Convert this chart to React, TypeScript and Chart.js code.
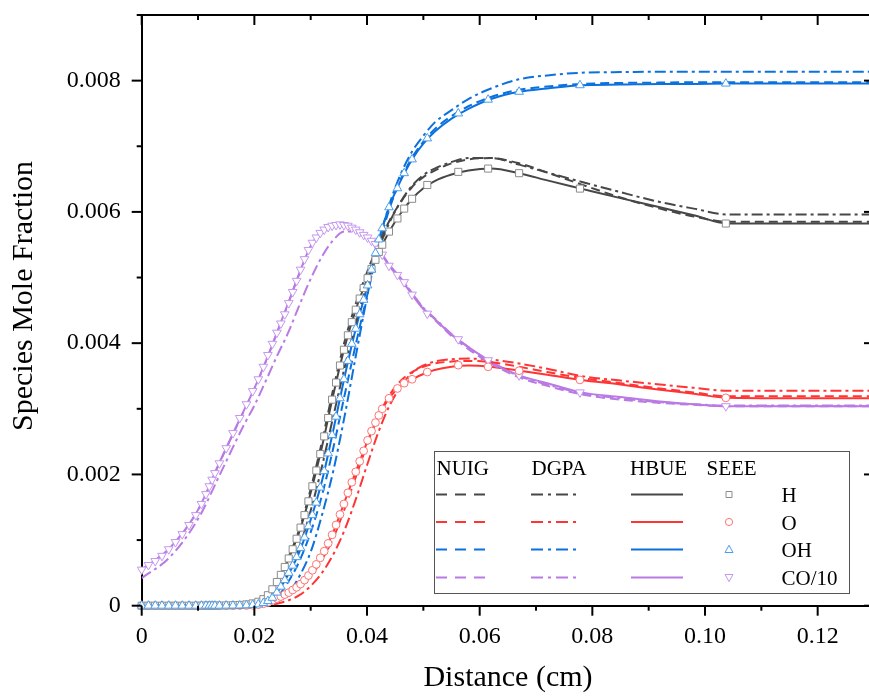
import React, { useEffect, useRef } from "react";
import { Chart, registerables } from "chart.js";

Chart.register(...registerables);

// ---------- data (mole fraction values in units of 1e-3) ----------
const xLine = [0, 0.005, 0.010, 0.014, 0.018, 0.020, 0.022, 0.024, 0.026, 0.028, 0.030, 0.032, 0.034, 0.036, 0.038, 0.040, 0.042, 0.044, 0.046, 0.048, 0.050, 0.052, 0.055, 0.058, 0.062, 0.067, 0.072, 0.078, 0.085, 0.092, 0.098, 0.104, 0.115, 0.130];

const hNUIG = [0, 0, 0, 0.002, 0.012, 0.035, 0.14, 0.38, 0.73, 1.17, 1.78, 2.50, 3.30, 4.02, 4.60, 5.08, 5.50, 5.87, 6.15, 6.38, 6.53, 6.63, 6.74, 6.80, 6.82, 6.74, 6.60, 6.42, 6.22, 6.05, 5.93, 5.85, 5.85, 5.85];
const hDGPA = [0, 0, 0, 0.001, 0.006, 0.02, 0.07, 0.22, 0.50, 0.90, 1.45, 2.12, 2.88, 3.62, 4.30, 4.90, 5.42, 5.84, 6.16, 6.40, 6.56, 6.66, 6.76, 6.82, 6.82, 6.72, 6.60, 6.46, 6.30, 6.15, 6.05, 5.96, 5.96, 5.96];
const hHBUE = [0, 0, 0, 0.002, 0.012, 0.03, 0.13, 0.36, 0.70, 1.13, 1.72, 2.42, 3.21, 3.93, 4.51, 4.97, 5.37, 5.71, 5.98, 6.20, 6.36, 6.47, 6.57, 6.63, 6.66, 6.59, 6.48, 6.355, 6.21, 6.07, 5.95, 5.823, 5.823, 5.823];

const oNUIG = [0, 0, 0, 0, 0.002, 0.006, 0.025, 0.075, 0.15, 0.27, 0.45, 0.70, 1.03, 1.47, 1.96, 2.45, 2.88, 3.21, 3.43, 3.56, 3.64, 3.69, 3.72, 3.73, 3.71, 3.64, 3.56, 3.47, 3.39, 3.31, 3.25, 3.19, 3.19, 3.19];
const oDGPA = [0, 0, 0, 0, 0.001, 0.003, 0.01, 0.03, 0.08, 0.16, 0.30, 0.50, 0.78, 1.15, 1.62, 2.14, 2.64, 3.05, 3.34, 3.55, 3.66, 3.72, 3.755, 3.765, 3.75, 3.69, 3.61, 3.50, 3.43, 3.37, 3.32, 3.275, 3.275, 3.275];
const oHBUE = [0, 0, 0, 0.001, 0.003, 0.01, 0.04, 0.11, 0.19, 0.31, 0.50, 0.77, 1.12, 1.58, 2.04, 2.49, 2.88, 3.17, 3.35, 3.45, 3.53, 3.59, 3.64, 3.66, 3.64, 3.58, 3.52, 3.44, 3.37, 3.29, 3.23, 3.167, 3.16, 3.16];

const ohNUIG = [0, 0, 0, 0.001, 0.004, 0.01, 0.035, 0.13, 0.36, 0.68, 1.12, 1.68, 2.40, 3.20, 3.98, 4.72, 5.45, 6.05, 6.50, 6.83, 7.07, 7.26, 7.46, 7.61, 7.75, 7.86, 7.91, 7.95, 7.965, 7.97, 7.975, 7.975, 7.975, 7.975];
const ohDGPA = [0, 0, 0, 0, 0.002, 0.005, 0.02, 0.06, 0.18, 0.45, 0.82, 1.38, 2.05, 2.88, 3.80, 4.70, 5.50, 6.12, 6.58, 6.92, 7.16, 7.36, 7.55, 7.72, 7.88, 8.02, 8.08, 8.12, 8.13, 8.135, 8.135, 8.135, 8.135, 8.135];
const ohHBUE = [0, 0, 0, 0.001, 0.005, 0.015, 0.05, 0.20, 0.47, 0.82, 1.31, 1.90, 2.67, 3.48, 4.22, 4.85, 5.55, 6.09, 6.48, 6.80, 7.04, 7.22, 7.42, 7.57, 7.72, 7.83, 7.88, 7.93, 7.94, 7.95, 7.95, 7.955, 7.955, 7.955];

const coNUIG = [0.55, 0.88, 1.46, 2.21, 2.94, 3.30, 3.71, 4.15, 4.60, 5.06, 5.47, 5.70, 5.79, 5.80, 5.74, 5.62, 5.44, 5.19, 4.99, 4.76, 4.53, 4.36, 4.11, 3.91, 3.69, 3.48, 3.35, 3.22, 3.14, 3.09, 3.06, 3.04, 3.04, 3.04];
const coDGPA = [0.42, 0.74, 1.32, 2.02, 2.73, 3.05, 3.42, 3.80, 4.16, 4.58, 4.98, 5.32, 5.57, 5.70, 5.70, 5.60, 5.42, 5.18, 4.98, 4.76, 4.54, 4.38, 4.14, 3.94, 3.71, 3.50, 3.37, 3.24, 3.16, 3.10, 3.07, 3.05, 3.05, 3.05];
const coHBUE = [0.55, 0.88, 1.46, 2.22, 2.95, 3.31, 3.72, 4.16, 4.61, 5.07, 5.48, 5.70, 5.79, 5.80, 5.73, 5.61, 5.43, 5.17, 4.97, 4.74, 4.52, 4.37, 4.13, 3.94, 3.72, 3.51, 3.39, 3.25, 3.18, 3.11, 3.07, 3.04, 3.04, 3.04];

const seeeX = [0, 0.0012, 0.0024, 0.0036, 0.0048, 0.0060, 0.0072, 0.0084, 0.0096, 0.0106, 0.0114, 0.0120, 0.0125, 0.0130, 0.0138, 0.0150, 0.0162, 0.0174, 0.0186, 0.0197, 0.0207, 0.0216, 0.0224, 0.0232, 0.0240, 0.0247, 0.0254, 0.0261, 0.0268, 0.0275, 0.0282, 0.0289, 0.0296, 0.0303, 0.0310, 0.0317, 0.0324, 0.0331, 0.0338, 0.0345, 0.0352, 0.0359, 0.0366, 0.0373, 0.0380, 0.0387, 0.0394, 0.0401, 0.0408, 0.0415, 0.0421, 0.0427, 0.0439, 0.0454, 0.0466, 0.0480, 0.0507, 0.0562, 0.0615, 0.0670, 0.0778, 0.1037];
const hSEEE = [0, 0, 0, 0, 0, 0, 0, 0, 0, 0, 0.001, 0.001, 0.001, 0.001, 0.002, 0.004, 0.007, 0.012, 0.02, 0.035, 0.06, 0.10, 0.16, 0.25, 0.36, 0.47, 0.59, 0.72, 0.86, 1.02, 1.19, 1.38, 1.59, 1.82, 2.06, 2.31, 2.58, 2.86, 3.14, 3.40, 3.66, 3.90, 4.12, 4.32, 4.51, 4.68, 4.84, 4.99, 5.13, 5.27, 5.39, 5.50, 5.70, 5.90, 6.05, 6.20, 6.41, 6.61, 6.66, 6.59, 6.355, 5.823];
const oSEEE = [0, 0, 0, 0, 0, 0, 0, 0, 0, 0, 0, 0, 0, 0, 0, 0.001, 0.001, 0.002, 0.003, 0.007, 0.015, 0.03, 0.05, 0.08, 0.11, 0.14, 0.17, 0.20, 0.24, 0.28, 0.33, 0.39, 0.46, 0.54, 0.63, 0.73, 0.83, 0.95, 1.08, 1.23, 1.39, 1.55, 1.72, 1.88, 2.04, 2.20, 2.36, 2.52, 2.66, 2.79, 2.90, 3.00, 3.16, 3.31, 3.39, 3.45, 3.56, 3.665, 3.64, 3.58, 3.44, 3.167];
const ohSEEE = [0, 0, 0, 0, 0, 0, 0, 0, 0, 0, 0, 0, 0, 0, 0, 0.001, 0.002, 0.003, 0.006, 0.012, 0.02, 0.04, 0.07, 0.12, 0.20, 0.29, 0.39, 0.50, 0.61, 0.74, 0.88, 1.04, 1.21, 1.38, 1.57, 1.80, 2.05, 2.32, 2.60, 2.88, 3.16, 3.45, 3.73, 3.99, 4.22, 4.44, 4.66, 4.88, 5.12, 5.37, 5.58, 5.75, 6.07, 6.36, 6.59, 6.80, 7.12, 7.50, 7.71, 7.83, 7.93, 7.955];
const coSEEE = [0.55, 0.62, 0.68, 0.76, 0.86, 0.97, 1.09, 1.23, 1.38, 1.55, 1.70, 1.82, 1.92, 2.02, 2.17, 2.40, 2.63, 2.86, 3.07, 3.27, 3.45, 3.64, 3.82, 3.99, 4.16, 4.30, 4.44, 4.61, 4.78, 4.95, 5.12, 5.28, 5.42, 5.53, 5.61, 5.68, 5.73, 5.77, 5.79, 5.80, 5.81, 5.80, 5.79, 5.76, 5.73, 5.69, 5.65, 5.61, 5.56, 5.51, 5.44, 5.35, 5.18, 5.04, 4.93, 4.74, 4.45, 4.06, 3.74, 3.51, 3.25, 3.04];

const models = ["NUIG", "DGPA", "HBUE", "SEEE"];
const species = ["H", "O", "OH", "CO/10"];

const xMin = 0, xMax = 0.13, xStep = 0.02, xMinor = 0.01;
const yMin = 0, yMax = 9, yStep = 2, yMinor = 1; // units of 1e-3

// ---------- styles ----------
const FONT = "'Liberation Serif', 'Times New Roman', Times, serif";
const lineColors = ["#474747", "#ff3434", "#0b71de", "#b97ae4"];
const markerColors = ["#8c8c8c", "#ff7373", "#4c9de9", "#c597ef"];
const markerStyles = ["rect", "circle", "triangle", "triangle"];
const markerRot = [0, 0, 0, 180];
const markerRadius = [5, 3.9, 5, 5];
const DASH = [9, 5];
const DASHDOT = [11, 4, 3, 4];

export default function App() {
  const ref = useRef<HTMLCanvasElement | null>(null);

  useEffect(() => {
    const canvas = ref.current;
    if (!canvas) return;

    const lineSet = [
      [hNUIG, hDGPA, hHBUE],
      [oNUIG, oDGPA, oHBUE],
      [ohNUIG, ohDGPA, ohHBUE],
      [coNUIG, coDGPA, coHBUE],
    ];
    const seeeSet = [hSEEE, oSEEE, ohSEEE, coSEEE];
    const dashes = [DASH, DASHDOT, []];

    const datasets: any[] = [];
    [2, 0, 1, 3].forEach((s) => {
      datasets.push({
        label: species[s] + " SEEE",
        data: seeeX.map((x, i) => ({ x, y: seeeSet[s][i] })),
        showLine: false,
        pointStyle: markerStyles[s],
        rotation: markerRot[s],
        pointRotation: markerRot[s],
        pointRadius: markerRadius[s],
        pointBorderColor: markerColors[s],
        pointBackgroundColor: "#ffffff",
        pointBorderWidth: 1,
        borderColor: markerColors[s],
        backgroundColor: "#ffffff",
        clip: false,
        order: 0,
      });
    });
    for (let s = 0; s < 4; s++) {
      for (let m = 0; m < 3; m++) {
        datasets.push({
          label: species[s] + " " + models[m],
          data: xLine.map((x, i) => ({ x, y: lineSet[s][m][i] })),
          borderColor: lineColors[s],
          borderWidth: 2,
          borderDash: dashes[m],
          pointRadius: 0,
          cubicInterpolationMode: "monotone",
          fill: false,
          order: 1 + m,
        });
      }
    }

    const framePlugin = {
      id: "frame",
      afterDraw(chart: any) {
        const { ctx, chartArea, scales } = chart;
        const { left, right, top, bottom } = chartArea;
        const xs = scales.x, ys = scales.y;
        ctx.save();
        ctx.strokeStyle = "#000";
        ctx.lineWidth = 2;
        ctx.setLineDash([]);
        ctx.beginPath();
        ctx.moveTo(left - 1, top);
        ctx.lineTo(right, top);
        ctx.lineTo(right, bottom);
        ctx.stroke();

        const seg = (x1: number, y1: number, x2: number, y2: number) => {
          ctx.beginPath();
          ctx.moveTo(x1, y1);
          ctx.lineTo(x2, y2);
          ctx.stroke();
        };
        const nX = Math.round((xMax - xMin) / xMinor);
        for (let i = 0; i <= nX; i++) {
          const v = xMin + i * xMinor;
          const px = xs.getPixelForValue(v);
          const major = i % Math.round(xStep / xMinor) === 0;
          const len = major ? 10 : 5;
          seg(px, bottom, px, bottom + len);
          seg(px, top, px, top + len);
        }
        const nY = Math.round((yMax - yMin) / yMinor);
        for (let i = 0; i <= nY; i++) {
          const v = yMin + i * yMinor;
          const py = ys.getPixelForValue(v);
          const major = i % Math.round(yStep / yMinor) === 0;
          const len = major ? 10 : 5;
          seg(left - len, py, left, py);
          seg(right - len, py, right, py);
        }

        // axis titles
        ctx.fillStyle = "#000";
        ctx.font = `30px ${FONT}`;
        ctx.textAlign = "center";
        ctx.textBaseline = "alphabetic";
        ctx.fillText("Distance (cm)", 508, 686);
        ctx.save();
        ctx.translate(32, 296);
        ctx.rotate(-Math.PI / 2);
        ctx.fillText("Species Mole Fraction", 0, 0);
        ctx.restore();

        // legend table
        const bx = 434, by = 451, bw = 415, bh = 142;
        ctx.fillStyle = "#fff";
        ctx.fillRect(bx, by, bw, bh);
        ctx.strokeStyle = "#555";
        ctx.lineWidth = 1;
        ctx.strokeRect(bx + 0.5, by + 0.5, bw, bh);

        ctx.fillStyle = "#000";
        ctx.font = `21px ${FONT}`;
        ctx.textAlign = "left";
        const headX = [436.5, 531.5, 630, 706.5];
        models.forEach((m, i) => ctx.fillText(m, headX[i], 474.5));
        const rowY = [494.5, 522, 549.5, 577.5];
        const segX = [[436, 487], [531, 577], [631, 683]];
        species.forEach((sp, s) => {
          const y = rowY[s];
          ctx.fillStyle = "#000";
          ctx.fillText(sp, 781.5, y + 7.5);
          ctx.strokeStyle = lineColors[s];
          ctx.lineWidth = 2;
          const ldash = [[11, 8], [12, 5, 3, 5], []];
          for (let m = 0; m < 3; m++) {
            ctx.setLineDash(ldash[m]);
            seg(segX[m][0], y, segX[m][1], y);
          }
          ctx.setLineDash([]);
          ctx.strokeStyle = markerColors[s];
          ctx.lineWidth = 1;
          const mx = 729;
          ctx.beginPath();
          if (s === 0) {
            ctx.rect(mx - 3, y - 3, 6, 6);
          } else if (s === 1) {
            ctx.arc(mx, y, 3.6, 0, Math.PI * 2);
          } else if (s === 2) {
            ctx.moveTo(mx, y - 4.2);
            ctx.lineTo(mx + 4, y + 3);
            ctx.lineTo(mx - 4, y + 3);
            ctx.closePath();
          } else {
            ctx.moveTo(mx, y + 4.2);
            ctx.lineTo(mx + 4, y - 3);
            ctx.lineTo(mx - 4, y - 3);
            ctx.closePath();
          }
          ctx.stroke();
        });
        ctx.restore();
      },
    };

    const chart = new Chart(canvas, {
      type: "line",
      data: { datasets },
      options: {
        animation: false,
        responsive: false,
        maintainAspectRatio: false,
        devicePixelRatio: 1,
        layout: { padding: { top: 15, right: 3.8, left: 0, bottom: 0 } },
        plugins: { legend: { display: false }, tooltip: { enabled: false } },
        scales: {
          x: {
            type: "linear",
            min: xMin,
            max: xMax,
            border: { display: true, color: "#000", width: 2 },
            grid: { display: false, drawTicks: false },
            ticks: {
              stepSize: xStep,
              includeBounds: false,
              autoSkip: false,
              maxRotation: 0,
              padding: 17,
              color: "#000",
              font: { family: FONT, size: 24 },
              callback: (v: any) => (Math.abs(v) < 1e-9 ? "0" : Number(v).toFixed(2)),
            },
            afterFit: (s: any) => {
              s.height = 92.3;
              s.paddingLeft = 0;
              s.paddingRight = 0;
              s.paddingTop = 0;
              s.paddingBottom = 0;
            },
          },
          y: {
            type: "linear",
            min: yMin,
            max: yMax,
            border: { display: true, color: "#000", width: 2 },
            grid: { display: false, drawTicks: false },
            ticks: {
              stepSize: yStep,
              includeBounds: false,
              padding: 21,
              color: "#000",
              font: { family: FONT, size: 24 },
              callback: (v: any) => (Math.abs(v) < 1e-9 ? "0" : (Number(v) / 1000).toFixed(3)),
            },
            afterFit: (s: any) => {
              s.width = 141.7;
              s.paddingLeft = 0;
              s.paddingRight = 0;
              s.paddingTop = 0;
              s.paddingBottom = 0;
            },
          },
        },
      },
      plugins: [framePlugin],
    });

    return () => chart.destroy();
  }, []);

  return (
    <div style={{ position: "fixed", left: 0, top: 0, width: 880, height: 698, background: "#fff" }}>
      <canvas ref={ref} width={880} height={698} style={{ display: "block" }} />
    </div>
  );
}
